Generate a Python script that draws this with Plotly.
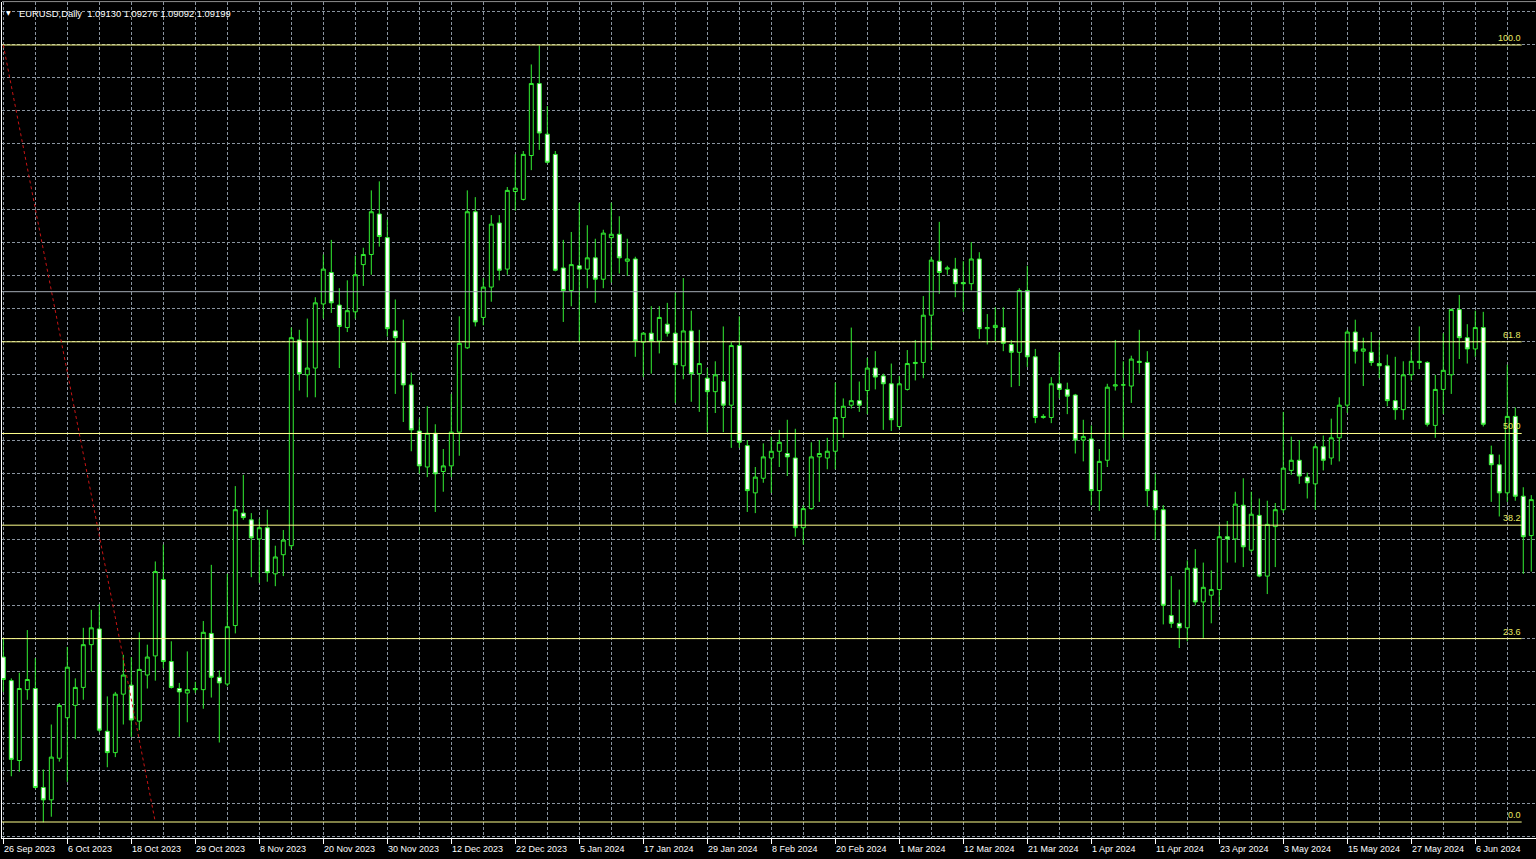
import plotly.graph_objects as go

# ---------------- data (EURUSD Daily) ----------------
symbol_title = "EURUSD,Daily"
header_ohlc = [1.09130, 1.09276, 1.09092, 1.09199]
bid_price = 1.09199

date_labels = ["26 Sep 2023", "6 Oct 2023", "18 Oct 2023", "29 Oct 2023", "8 Nov 2023",
               "20 Nov 2023", "30 Nov 2023", "12 Dec 2023", "22 Dec 2023", "5 Jan 2024",
               "17 Jan 2024", "29 Jan 2024", "8 Feb 2024", "20 Feb 2024", "1 Mar 2024",
               "12 Mar 2024", "21 Mar 2024", "1 Apr 2024", "11 Apr 2024", "23 Apr 2024",
               "3 May 2024", "15 May 2024", "27 May 2024", "6 Jun 2024"]
label_every = 8  # bars between date labels

open_ = [1.0595, 1.0574, 1.0503, 1.0566, 1.0567, 1.0479, 1.0468, 1.0505, 1.0541, 1.0552,
         1.0568, 1.0606, 1.0620, 1.0529, 1.0510, 1.0562, 1.0570, 1.0538, 1.0579, 1.0596,
         1.0664, 1.0591, 1.0567, 1.0563, 1.0566, 1.0566, 1.0616, 1.0577, 1.0571, 1.0623,
         1.0723, 1.0717, 1.0700, 1.0710, 1.0669, 1.0686, 1.0694, 1.0877, 1.0846, 1.0852,
         1.0909, 1.0937, 1.0908, 1.0888, 1.0902, 1.0944, 1.0953, 1.0989, 1.0968, 1.0885,
         1.0875, 1.0837, 1.0796, 1.0764, 1.0794, 1.0760, 1.0765, 1.0795, 1.0870, 1.0991,
         1.0897, 1.0924, 1.0981, 1.0940, 1.1009, 1.1002, 1.1041, 1.1105, 1.1060, 1.1042,
         1.0941, 1.0921, 1.0943, 1.0940, 1.0950, 1.0931, 1.0968, 1.0971, 1.0947, 1.0949,
         1.0875, 1.0883, 1.0876, 1.0891, 1.0883, 1.0854, 1.0885, 1.0847, 1.0843, 1.0831,
         1.0840, 1.0819, 1.0872, 1.0783, 1.0741, 1.0754, 1.0772, 1.0778, 1.0776, 1.0772,
         1.0710, 1.0727, 1.0773, 1.0772, 1.0778, 1.0808, 1.0819, 1.0823, 1.0832, 1.0852,
         1.0845, 1.0838, 1.0800, 1.0833, 1.0856, 1.0857, 1.0899, 1.0947, 1.0940, 1.0940,
         1.0928, 1.0927, 1.0949, 1.0887, 1.0888, 1.0888, 1.0873, 1.0866, 1.0921, 1.0862,
         1.0808, 1.0808, 1.0838, 1.0833, 1.0828, 1.0788, 1.0789, 1.0743, 1.0770, 1.0836,
         1.0837, 1.0836, 1.0858, 1.0857, 1.0743, 1.0726, 1.0632, 1.0625, 1.0621, 1.0674,
         1.0644, 1.0650, 1.0655, 1.0702, 1.0700, 1.0730, 1.0690, 1.0721, 1.0667, 1.0711,
         1.0726, 1.0761, 1.0770, 1.0755, 1.0749, 1.0782, 1.0772, 1.0790, 1.0819, 1.0884,
         1.0867, 1.0866, 1.0856, 1.0854, 1.0823, 1.0815, 1.0846, 1.0858, 1.0857, 1.0801,
         1.0833, 1.0846, 1.0904, 1.0879, 1.0869, 1.0888, 1.0775, 1.0766, 1.0741, 1.0809,
         1.0738, 1.0703]

high = [1.0612, 1.0576, 1.0581, 1.0619, 1.0594, 1.0495, 1.0535, 1.0554, 1.0604, 1.0576,
        1.0621, 1.0637, 1.0642, 1.0560, 1.0564, 1.0597, 1.0595, 1.0617, 1.0606, 1.0680,
        1.0695, 1.0609, 1.0572, 1.0600, 1.0573, 1.0627, 1.0677, 1.0583, 1.0669, 1.0747,
        1.0757, 1.0723, 1.0718, 1.0726, 1.0694, 1.0708, 1.0888, 1.0886, 1.0896, 1.0915,
        1.0953, 1.0966, 1.0923, 1.0930, 1.0952, 1.0959, 1.1010, 1.1018, 1.0984, 1.0913,
        1.0895, 1.0848, 1.0807, 1.0818, 1.0802, 1.0780, 1.0829, 1.0898, 1.1010, 1.1004,
        1.0932, 1.0988, 1.0988, 1.1013, 1.1042, 1.1045, 1.1122, 1.1139, 1.1085, 1.1045,
        1.0966, 1.0973, 1.0999, 1.0979, 1.0967, 1.0975, 1.0999, 1.0987, 1.0967, 1.0951,
        1.0884, 1.0907, 1.0907, 1.0910, 1.0919, 1.0932, 1.0903, 1.0886, 1.0852, 1.0858,
        1.0889, 1.0875, 1.0898, 1.0788, 1.0764, 1.0785, 1.0791, 1.0797, 1.0806, 1.0798,
        1.0730, 1.0786, 1.0788, 1.0790, 1.0839, 1.0825, 1.0888, 1.0840, 1.0861, 1.0867,
        1.0847, 1.0856, 1.0845, 1.0868, 1.0877, 1.0916, 1.0951, 1.0982, 1.0943, 1.0950,
        1.0947, 1.0964, 1.0955, 1.0900, 1.0906, 1.0906, 1.0877, 1.0923, 1.0943, 1.0869,
        1.0811, 1.0844, 1.0866, 1.0839, 1.0829, 1.0806, 1.0801, 1.0780, 1.0838, 1.0877,
        1.0858, 1.0863, 1.0886, 1.0867, 1.0758, 1.0730, 1.0667, 1.0655, 1.0681, 1.0691,
        1.0679, 1.0672, 1.0712, 1.0716, 1.0742, 1.0754, 1.0742, 1.0736, 1.0734, 1.0732,
        1.0813, 1.0791, 1.0788, 1.0759, 1.0785, 1.0792, 1.0807, 1.0826, 1.0886, 1.0895,
        1.0879, 1.0884, 1.0877, 1.0864, 1.0862, 1.0858, 1.0868, 1.0889, 1.0858, 1.0846,
        1.0883, 1.0905, 1.0917, 1.0891, 1.0903, 1.0902, 1.0783, 1.0775, 1.0855, 1.0817,
        1.0746, 1.0739]

low = [1.0564, 1.0489, 1.0493, 1.0557, 1.0478, 1.0448, 1.0453, 1.0502, 1.0484, 1.0522,
       1.0557, 1.0582, 1.0528, 1.0497, 1.0506, 1.0535, 1.0524, 1.0530, 1.0567, 1.0574,
       1.0585, 1.0567, 1.0524, 1.0537, 1.0563, 1.0549, 1.0559, 1.0519, 1.0569, 1.0616,
       1.0717, 1.0666, 1.0661, 1.0662, 1.0658, 1.0667, 1.0691, 1.0832, 1.0826, 1.0826,
       1.0896, 1.0901, 1.0852, 1.0884, 1.0896, 1.0925, 1.0935, 1.0960, 1.0880, 1.0829,
       1.0804, 1.0778, 1.0758, 1.0755, 1.0724, 1.0742, 1.0755, 1.0774, 1.0869, 1.0889,
       1.0890, 1.0911, 1.0930, 1.0935, 1.0992, 1.1001, 1.1028, 1.1046, 1.1034, 1.0938,
       1.0893, 1.0907, 1.0875, 1.0923, 1.0910, 1.0923, 1.0928, 1.0936, 1.0934, 1.0862,
       1.0844, 1.0847, 1.0865, 1.0880, 1.0821, 1.0842, 1.0822, 1.0813, 1.0795, 1.0812,
       1.0795, 1.0781, 1.0781, 1.0724, 1.0723, 1.0750, 1.0741, 1.0764, 1.0756, 1.0702,
       1.0695, 1.0726, 1.0733, 1.0762, 1.0762, 1.0790, 1.0816, 1.0813, 1.0811, 1.0833,
       1.0797, 1.0796, 1.0798, 1.0832, 1.0841, 1.0843, 1.0868, 1.0918, 1.0935, 1.0915,
       1.0902, 1.0921, 1.0878, 1.0873, 1.0876, 1.0867, 1.0835, 1.0836, 1.0853, 1.0803,
       1.0807, 1.0803, 1.0825, 1.0811, 1.0776, 1.0769, 1.0730, 1.0725, 1.0764, 1.0832,
       1.0790, 1.0821, 1.0847, 1.0729, 1.0699, 1.0624, 1.0621, 1.0603, 1.0609, 1.0641,
       1.0612, 1.0625, 1.0640, 1.0679, 1.0679, 1.0675, 1.0688, 1.0666, 1.0651, 1.0675,
       1.0723, 1.0757, 1.0749, 1.0736, 1.0726, 1.0761, 1.0766, 1.0769, 1.0812, 1.0856,
       1.0836, 1.0854, 1.0843, 1.0818, 1.0806, 1.0806, 1.0841, 1.0851, 1.0800, 1.0790,
       1.0811, 1.0829, 1.0860, 1.0856, 1.0862, 1.0800, 1.0733, 1.0720, 1.0733, 1.0734,
       1.0669, 1.0671]

close = [1.0575, 1.0504, 1.0567, 1.0575, 1.0479, 1.0468, 1.0506, 1.0552, 1.0586, 1.0568,
         1.0606, 1.0621, 1.0530, 1.0510, 1.0562, 1.0579, 1.0539, 1.0584, 1.0595, 1.0671,
         1.0591, 1.0568, 1.0564, 1.0566, 1.0567, 1.0617, 1.0577, 1.0572, 1.0622, 1.0726,
         1.0719, 1.0701, 1.0710, 1.0670, 1.0684, 1.0699, 1.0879, 1.0847, 1.0852, 1.0910,
         1.0940, 1.0910, 1.0889, 1.0903, 1.0935, 1.0953, 1.0991, 1.0969, 1.0887, 1.0879,
         1.0837, 1.0797, 1.0765, 1.0794, 1.0758, 1.0765, 1.0795, 1.0874, 1.0991, 1.0893,
         1.0924, 1.0980, 1.0939, 1.1010, 1.1012, 1.1042, 1.1105, 1.1061, 1.1035, 1.0939,
         1.0921, 1.0944, 1.0940, 1.0950, 1.0931, 1.0972, 1.0971, 1.0950, 1.0949, 1.0876,
         1.0883, 1.0876, 1.0897, 1.0883, 1.0855, 1.0885, 1.0847, 1.0856, 1.0831, 1.0846,
         1.0819, 1.0872, 1.0786, 1.0743, 1.0755, 1.0773, 1.0778, 1.0786, 1.0773, 1.0710,
         1.0727, 1.0773, 1.0776, 1.0778, 1.0808, 1.0818, 1.0823, 1.0819, 1.0852, 1.0844,
         1.0838, 1.0806, 1.0838, 1.0856, 1.0857, 1.0899, 1.0948, 1.0937, 1.0941, 1.0927,
         1.0927, 1.0949, 1.0887, 1.0888, 1.0890, 1.0874, 1.0866, 1.0921, 1.0862, 1.0808,
         1.0809, 1.0838, 1.0833, 1.0827, 1.0788, 1.0791, 1.0743, 1.0769, 1.0835, 1.0837,
         1.0837, 1.0860, 1.0857, 1.0743, 1.0726, 1.0641, 1.0625, 1.0621, 1.0674, 1.0644,
         1.0657, 1.0655, 1.0702, 1.0700, 1.0731, 1.0693, 1.0722, 1.0667, 1.0713, 1.0726,
         1.0763, 1.0770, 1.0756, 1.0750, 1.0782, 1.0770, 1.0790, 1.0819, 1.0884, 1.0867,
         1.0869, 1.0857, 1.0854, 1.0823, 1.0815, 1.0846, 1.0858, 1.0857, 1.0802, 1.0833,
         1.0850, 1.0904, 1.0879, 1.0869, 1.0888, 1.0802, 1.0766, 1.0741, 1.0809, 1.0738,
         1.0702, 1.0735]

# Fibonacci retracement anchors (bar index, price)
fib_high_bar, fib_high = 0, 1.11393
fib_low_bar, fib_low = 19, 1.04483
fib_levels = [0.0, 23.6, 38.2, 50.0, 61.8, 100.0]

# ---------------- styling ----------------
GREEN = "#33f033"
GRID = "#8a949f"
FIB = "#ffff8c"
FIB_TXT = "#e8e860"
FONT = "Liberation Sans, Arial, sans-serif"

bars = list(range(len(open_)))
label_pos = [k * label_every for k in range(len(date_labels))]

fig = go.Figure()
fig.add_trace(go.Candlestick(
    x=bars, open=open_, high=high, low=low, close=close,
    increasing=dict(line=dict(color=GREEN, width=1), fillcolor="#000000"),
    decreasing=dict(line=dict(color=GREEN, width=1), fillcolor="#ffffff"),
    whiskerwidth=0, hoverinfo="skip", showlegend=False,
))

x_lo, x_hi = -0.1625, 191.59
y_lo, y_hi = 1.043407, 1.117753
fib_end = 189.8

shapes = []
annotations = []
for lv in fib_levels:
    p = fib_low + (fib_high - fib_low) * lv / 100.0
    shapes.append(dict(type="line", xref="x", yref="y", x0=x_lo, x1=fib_end, y0=p, y1=p,
                       line=dict(color=FIB, width=1)))
    annotations.append(dict(xref="x", yref="y", x=fib_end + 0.15, y=p, text=f"{lv:.1f}",
                            xanchor="right", yanchor="bottom", showarrow=False,
                            font=dict(family=FONT, size=9, color=FIB_TXT)))
# fibo trend (dotted red)
shapes.append(dict(type="line", xref="x", yref="y", x0=fib_high_bar, y0=fib_high,
                   x1=fib_low_bar, y1=fib_low, line=dict(color="#c81414", width=1, dash="dot")))
# bid line
shapes.append(dict(type="line", xref="paper", yref="y", x0=0, x1=1, y0=bid_price, y1=bid_price,
                   line=dict(color="#a4acb6", width=1)))
# top frame
shapes.append(dict(type="line", xref="paper", yref="paper", x0=0, x1=1, y0=1.0005, y1=1.0005,
                   line=dict(color="#8c8c8c", width=1)))

for pos, txt in zip(label_pos, date_labels):
    annotations.append(dict(xref="x", yref="paper", x=pos, y=0, text=txt, xanchor="left",
                            yanchor="top", yshift=-4, xshift=-1, showarrow=False,
                            font=dict(family=FONT, size=9, color="#ffffff")))

annotations.append(dict(xref="paper", yref="paper", x=0, y=1, text="▼", xanchor="left",
                        yanchor="top", xshift=2, yshift=-5, showarrow=False,
                        font=dict(family="DejaVu Sans", size=6, color="#ffffff")))
annotations.append(dict(xref="paper", yref="paper", x=0, y=1,
                        text=symbol_title + "  " + " ".join(f"{v:.5f}" for v in header_ohlc),
                        xanchor="left", yanchor="top", xshift=15, yshift=-4, showarrow=False,
                        font=dict(family=FONT, size=9.4, color="#ffffff")))

fig.update_layout(
    width=1536, height=859,
    margin=dict(l=2, r=0, t=2, b=21),
    paper_bgcolor="#000000", plot_bgcolor="#000000",
    showlegend=False, shapes=shapes, annotations=annotations,
    hovermode=False,
    xaxis=dict(range=[x_lo, x_hi], rangeslider=dict(visible=False), tickmode="array",
               tickvals=label_pos, showticklabels=False, ticks="outside", ticklen=5,
               tickcolor="#ffffff", tickwidth=1, showline=True, linecolor="#ffffff", linewidth=1,
               showgrid=True, gridcolor=GRID, gridwidth=1, griddash="3px,2px", zeroline=False,
               minor=dict(dtick=4, tick0=0, showgrid=True, gridcolor=GRID, gridwidth=1,
                          griddash="3px,2px", ticks=""),
               fixedrange=True),
    yaxis=dict(range=[y_lo, y_hi], tick0=1.046493, dtick=0.0029347, showticklabels=False,
               ticks="", showline=True, linecolor="#ffffff", linewidth=1, showgrid=True,
               gridcolor=GRID, gridwidth=1, griddash="3px,2px", zeroline=False, fixedrange=True),
)

fig.write_html("out.html", config={"displayModeBar": False, "staticPlot": True},
               post_script="document.body.style.margin='0';document.body.style.overflow='hidden';")
